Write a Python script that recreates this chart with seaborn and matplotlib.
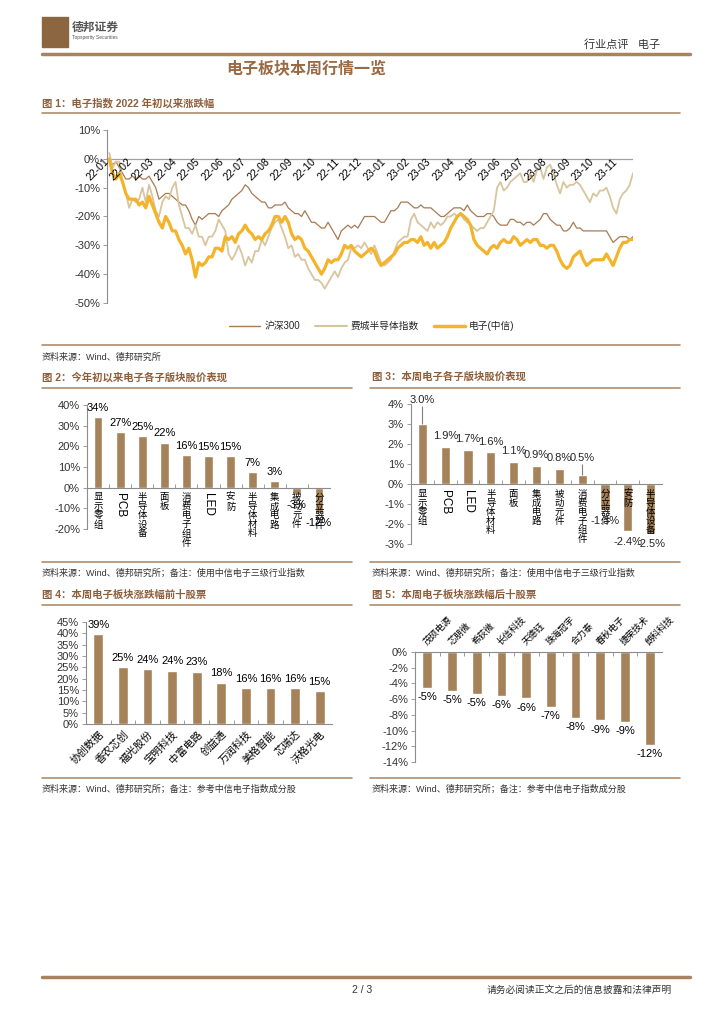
import numpy as np
import pandas as pd
import seaborn as sns
import matplotlib.pyplot as plt
import matplotlib.dates as mdates
from matplotlib.lines import Line2D
from matplotlib.patches import Rectangle

sns.set_theme(style="white")
plt.rcParams["font.family"] = ["Liberation Sans", "Noto Sans CJK SC", "DejaVu Sans"]
plt.rcParams["axes.unicode_minus"] = False

W, H = 724, 1024

# 颜色
BAR = "#A5825A"
RULE = "#B08D6B"
HEAD = "#8E5F3B"
TXT = "#333333"
GRAY = "#8C8C8C"
HS300_C = "#A77B53"
SOX_C = "#D8C59E"
ELEC_C = "#F4B42A"

# ---- 图1 数据 (2022-01 ~ 2023-11, 累计涨跌幅 %) ----
hs300 = [0, -2, -1, -3, -5, -7, -7, -6, -7, -6,
         -7, -7, -6, -8, -10, -14, -13, -12, -12, -13,
         -14, -15, -16, -16, -18, -21, -23, -20, -21, -20,
         -19, -19, -19, -20, -18, -17, -16, -14, -13, -12,
         -11, -9, -10, -12, -13, -14, -15, -15, -17, -17,
         -16, -16, -16, -15, -17, -18, -19, -19, -20, -18,
         -20, -22, -22, -23, -24, -24, -22, -24, -26, -28,
         -25, -24, -23, -24, -23, -24, -22, -20, -20,
         -20, -20, -21, -22, -22, -20, -18, -18, -17, -15,
         -15, -15, -16, -17, -17, -16, -17, -17, -17, -18,
         -19, -20, -20, -19, -18, -17, -17, -17, -18, -16,
         -18, -19, -20, -20, -20, -19, -19, -20, -22, -23,
         -23, -23, -21, -21, -22, -22, -23, -22, -22, -23,
         -22, -21, -19, -19, -21, -22, -23, -23, -25, -25,
         -24, -22, -24, -24, -25, -25, -25, -25, -25, -25,
         -25, -25, -27, -29, -28, -27, -27, -27, -28, -27]
sox = [2, -3, -1, -1, -8, -12, -17, -14, -15, -14,
       -10, -15, -9, -13, -18, -20, -15, -13, -14, -10,
       -8, -16, -20, -24, -24, -26, -23, -27, -27, -30,
       -27, -27, -25, -21, -23, -25, -33, -35, -33, -30,
       -33, -37, -34, -36, -32, -32, -28, -30, -27, -24,
       -22, -21, -24, -27, -31, -30, -34, -33, -35, -35,
       -38, -40, -42, -42, -43, -45, -43, -41, -39, -41,
       -38, -36, -35, -31, -31, -30, -31, -29, -31,
       -33, -30, -33, -36, -37, -36, -35, -32, -29, -28,
       -27, -27, -21, -19, -22, -23, -24, -25, -22, -24,
       -22, -23, -22, -20, -20, -19, -20, -19, -21, -22,
       -23, -24, -25, -24, -24, -22, -20, -18, -10, -8,
       -11, -10, -8, -7, -6, -5, -8, -8, -5, -8,
       -4, -3, -7, -3, -2, -5, -9, -12, -8, -10,
       -9, -9, -8, -9, -11, -13, -15, -12, -13, -11,
       -11, -10, -13, -17, -19, -14, -12, -11, -9, -5]
elec = [0, -5, -7, -5, -8, -12, -14, -14, -14, -16,
        -15, -17, -13, -16, -19, -22, -24, -20, -22, -25,
        -25, -28, -30, -33, -31, -35, -41, -36, -37, -36,
        -34, -34, -31, -31, -32, -27, -28, -27, -29, -26,
        -25, -23, -25, -26, -28, -27, -28, -26, -25, -23,
        -20, -20, -22, -20, -22, -26, -28, -27, -28, -31,
        -32, -34, -36, -38, -40, -38, -35, -36, -35, -35,
        -33, -30, -31, -30, -32, -33, -34, -33, -32,
        -31, -32, -35, -37, -36, -35, -34, -33, -31, -30,
        -29, -29, -28, -28, -29, -27, -30, -29, -31, -29,
        -31, -30, -29, -27, -24, -22, -20, -19, -20, -21,
        -23, -28, -30, -31, -32, -33, -31, -30, -31, -29,
        -28, -29, -29, -27, -28, -30, -29, -28, -29, -28,
        -28, -30, -30, -31, -30, -30, -32, -35, -37, -38,
        -37, -34, -33, -32, -35, -37, -36, -35, -35, -35,
        -35, -33, -35, -37, -34, -31, -29, -29, -28, -28]
month_labels = ["22-01", "22-02", "22-03", "22-04", "22-05", "22-06", "22-07", "22-08",
                "22-09", "22-10", "22-11", "22-12", "23-01", "23-02", "23-03", "23-04",
                "23-05", "23-06", "23-07", "23-08", "23-09", "23-10", "23-11"]
series_names = ["沪深300", "费城半导体指数", "电子(中信)"]

# ---- 图2 今年初以来 ----
ytd_cats = ["显示零组", "PCB", "半导体设备", "面板", "消费电子组件", "LED", "安防",
            "半导体材料", "集成电路", "被动元件", "分立器件"]
ytd_vals = [34.2, 26.8, 24.9, 21.8, 15.9, 15.4, 15.1, 7.4, 3.1, -3.2, -12.2]
ytd_labels = ["34%", "27%", "25%", "22%", "16%", "15%", "15%", "7%", "3%", "-3%", "-12%"]

# ---- 图3 本周 ----
wk_cats = ["显示零组", "PCB", "LED", "半导体材料", "面板", "集成电路", "被动元件",
           "消费电子组件", "分立器件", "安防", "半导体设备"]
wk_vals = [3.0, 1.85, 1.7, 1.58, 1.12, 0.92, 0.77, 0.45, -1.3, -2.37, -2.48]
wk_labels = ["3.0%", "1.9%", "1.7%", "1.6%", "1.1%", "0.9%", "0.8%", "0.5%",
             "-1.3%", "-2.4%", "-2.5%"]

# ---- 图4 涨幅前十 ----
top_names = ["协创数据", "香农芯创", "福光股份", "宝明科技", "中富电路", "创益通",
             "万润科技", "美格智能", "芯瑞达", "沃格光电"]
top_vals = [39.5, 25.0, 24.2, 23.6, 23.1, 18.3, 16.0, 15.7, 15.7, 14.6]
top_labels = ["39%", "25%", "24%", "24%", "23%", "18%", "16%", "16%", "16%", "15%"]

# ---- 图5 跌幅前十 ----
bot_names = ["茂硕电源", "芯朋微", "希荻微", "长信科技", "天德钰", "珠海冠宇",
             "合力泰", "春秋电子", "捷荣技术", "朗科科技"]
bot_vals = [-4.6, -5.0, -5.3, -5.6, -5.9, -7.0, -8.4, -8.7, -8.9, -11.8]
bot_labels = ["-5%", "-5%", "-5%", "-6%", "-6%", "-7%", "-8%", "-9%", "-9%", "-12%"]


def axes_at(fig, left, top, right, bottom):
    return fig.add_axes([left / W, 1 - bottom / H, (right - left) / W, (bottom - top) / H])


def ftext(fig, x, y, s, **kw):
    fig.text(x / W, 1 - y / H, s, **kw)


def hline(fig, y, x0, x1, lw=1.2, color=RULE):
    fig.add_artist(Line2D([x0 / W, x1 / W], [1 - y / H, 1 - y / H], color=color, lw=lw))


def style_yaxis(ax, ticks, fs=8):
    ax.set_yticks(ticks)
    ax.set_yticklabels([f"{t}%" for t in ticks], fontsize=fs, color=TXT)
    ax.tick_params(axis="y", length=3, width=0.6, color=GRAY, direction="out", pad=2, left=True)
    for s in ["top", "right"]:
        ax.spines[s].set_visible(False)
    ax.spines["left"].set_color(GRAY)
    ax.spines["left"].set_linewidth(0.8)
    ax.set_xlabel("")
    ax.set_ylabel("")


def bar_panel(ax, cats, vals, ylim, step, width=0.4):
    sns.barplot(x=cats, y=vals, ax=ax, color=BAR, width=width, saturation=1)
    ax.set_ylim(*ylim)
    ax.set_xlim(-0.5, len(cats) - 0.5)
    style_yaxis(ax, np.arange(ylim[0], ylim[1] + step / 2, step).astype(int), fs=8)
    ax.spines["bottom"].set_position(("data", 0))
    ax.spines["bottom"].set_color(GRAY)
    ax.spines["bottom"].set_linewidth(0.8)
    ax.set_xticks(np.arange(len(cats) - 1) + 0.5, minor=True)
    ax.set_xticks([])
    ax.tick_params(axis="x", which="minor", length=3, width=0.6, color=GRAY, direction="in", bottom=True)


def vertical_labels(ax, cats):
    for i, c in enumerate(cats):
        if c.isascii():
            ax.annotate(c, (i, 0), xytext=(0, -4), textcoords="offset points", rotation=270,
                        ha="center", va="top", fontsize=8.5, color="black")
        else:
            ax.annotate("\n".join(c), (i, 0), xytext=(0, -4), textcoords="offset points",
                        ha="center", va="top", fontsize=6.8, linespacing=1.0, color="black")


def value_labels(ax, vals, labels, up=3, down=-3):
    for i, (v, s) in enumerate(zip(vals, labels)):
        if v >= 0:
            ax.annotate(s, (i, v), xytext=(0, up), textcoords="offset points",
                        ha="center", va="bottom", fontsize=8, color="black", annotation_clip=False)
        else:
            ax.annotate(s, (i, v), xytext=(0, down), textcoords="offset points",
                        ha="center", va="top", fontsize=8, color="black", annotation_clip=False)


fig = plt.figure(figsize=(7.24, 10.24), dpi=100)

# ---- 页眉 ----
fig.add_artist(Rectangle((42 / W, 1 - 47 / H), 26 / W, 30 / H, color="#8C6641"))
ftext(fig, 72, 28, "德邦证券", fontsize=8.5, fontweight="bold", color="#555555", va="center")
ftext(fig, 72, 38, "Topsperity Securities", fontsize=3.5, color="#555555", va="center")
ftext(fig, 660, 45, "行业点评   电子", fontsize=8, color=TXT, ha="right", va="center")
hline(fig, 54, 42, 690, lw=2.5, color="#A8835E")
ftext(fig, 306, 69, "电子板块本周行情一览", fontsize=11.5, fontweight="bold", color="#9A6A44",
      ha="center", va="center")

# ---- 图1 ----
ftext(fig, 42, 103, "图 1：电子指数 2022 年初以来涨跌幅", fontsize=7.5, fontweight="bold",
      color=HEAD, va="center")
hline(fig, 113, 42, 680)
ax1 = axes_at(fig, 107, 130, 633, 303)
dates = pd.date_range("2022-01-04", "2023-11-24", periods=len(elec))
for vals, name, col, lw in [(hs300, series_names[0], HS300_C, 0.9),
                            (sox, series_names[1], SOX_C, 1.3),
                            (elec, series_names[2], ELEC_C, 2.3)]:
    d = pd.DataFrame({"date": dates[:len(vals)], "pct": vals})
    sns.lineplot(data=d, x="date", y="pct", ax=ax1, color=col, lw=lw, legend=False)
ax1.axhline(0, color="#A0A0A0", lw=0.9, zorder=0)
ax1.set_ylim(-50, 10)
ax1.set_xlim(mdates.date2num(pd.Timestamp("2022-01-01")), mdates.date2num(dates[-1]))
style_yaxis(ax1, np.arange(-50, 11, 10))
ax1.spines["bottom"].set_visible(False)
ax1.set_xticks([])
month_pos = pd.date_range("2022-01-01", periods=len(month_labels), freq="MS")
for m, lab in zip(month_pos, month_labels):
    ax1.text(mdates.date2num(m), -0.5, lab, rotation=45, rotation_mode="anchor",
             ha="right", va="center", fontsize=7.5, color="black")
handles = [Line2D([], [], color=HS300_C, lw=1.0), Line2D([], [], color=SOX_C, lw=1.5),
           Line2D([], [], color=ELEC_C, lw=2.5)]
fig.legend(handles, series_names, loc="center", bbox_to_anchor=(372 / W, 1 - 326 / H), ncol=3,
           frameon=False, fontsize=7, handlelength=3.2, columnspacing=1.6, handletextpad=0.4)
hline(fig, 345, 42, 680)
ftext(fig, 42, 357, "资料来源：Wind、德邦研究所", fontsize=6.5, color=TXT, va="center")

# ---- 图2 / 图3 ----
ftext(fig, 42, 377, "图 2：今年初以来电子各子版块股价表现", fontsize=7.5, fontweight="bold",
      color=HEAD, va="center")
ftext(fig, 372, 377, "图 3：本周电子各子版块股价表现", fontsize=7.5, fontweight="bold",
      color=HEAD, va="center")
hline(fig, 388, 42, 352)
hline(fig, 388, 370, 680)

ax2 = axes_at(fig, 87, 405, 330, 529)
bar_panel(ax2, ytd_cats, ytd_vals, (-20, 40), 10)
vertical_labels(ax2, ytd_cats)
value_labels(ax2, ytd_vals, ytd_labels, up=3, down=-4)

ax3 = axes_at(fig, 411, 404, 662, 544)
bar_panel(ax3, wk_cats, wk_vals, (-3, 4), 1)
vertical_labels(ax3, wk_cats)
# 引导线
ax3.vlines([0, 7], [wk_vals[0], wk_vals[7]], [3.9, 1.0], color="#7F7F7F", lw=0.8)
for i, (v, s) in enumerate(zip(wk_vals, wk_labels)):
    if i == 0:
        ax3.text(i, 3.95, s, ha="center", va="bottom", fontsize=8, clip_on=False)
    elif i == 7:
        ax3.text(i, 1.05, s, ha="center", va="bottom", fontsize=8)
    elif v >= 0:
        ax3.annotate(s, (i, v), xytext=(0, 4), textcoords="offset points",
                     ha="center", va="bottom", fontsize=8)
    else:
        ax3.annotate(s, (i, v), xytext=(0, -4), textcoords="offset points",
                     ha="center", va="top", fontsize=8, annotation_clip=False)

hline(fig, 562, 42, 352)
hline(fig, 562, 370, 680)
ftext(fig, 42, 573, "资料来源：Wind、德邦研究所；备注：使用中信电子三级行业指数", fontsize=6.5,
      color=TXT, va="center")
ftext(fig, 372, 573, "资料来源：Wind、德邦研究所；备注：使用中信电子三级行业指数", fontsize=6.5,
      color=TXT, va="center")

# ---- 图4 / 图5 ----
ftext(fig, 42, 595, "图 4：本周电子板块涨跌幅前十股票", fontsize=7.5, fontweight="bold",
      color=HEAD, va="center")
ftext(fig, 372, 595, "图 5：本周电子板块涨跌幅后十股票", fontsize=7.5, fontweight="bold",
      color=HEAD, va="center")
hline(fig, 605, 42, 352)
hline(fig, 605, 370, 680)

ax4 = axes_at(fig, 86, 622, 332, 724)
bar_panel(ax4, top_names, top_vals, (0, 45), 5)
value_labels(ax4, top_vals, top_labels, up=3)
for i, c in enumerate(top_names):
    ax4.annotate(c, (i + 0.15, 0), xytext=(0, -6), textcoords="offset points", rotation=45,
                 rotation_mode="anchor", ha="right", va="center", fontsize=7.5, color="black",
                 annotation_clip=False)

ax5 = axes_at(fig, 415, 652, 662, 762)
bar_panel(ax5, bot_names, bot_vals, (-14, 0), 2)
ax5.tick_params(axis="x", which="minor", direction="out")
value_labels(ax5, bot_vals, bot_labels, down=-3)
for i, c in enumerate(bot_names):
    ax5.annotate(c, (i - 0.1, 0), xytext=(0, 6), textcoords="offset points", rotation=45,
                 rotation_mode="anchor", ha="left", va="center", fontsize=6.5, color="black",
                 annotation_clip=False)

hline(fig, 778, 42, 352)
hline(fig, 778, 370, 680)
ftext(fig, 42, 789, "资料来源：Wind、德邦研究所；备注：参考中信电子指数成分股", fontsize=6.5,
      color=TXT, va="center")
ftext(fig, 372, 789, "资料来源：Wind、德邦研究所；备注：参考中信电子指数成分股", fontsize=6.5,
      color=TXT, va="center")

# ---- 页脚 ----
hline(fig, 977, 42, 690, lw=2.5, color="#A8835E")
ftext(fig, 362, 990, "2 / 3", fontsize=7.5, color=TXT, ha="center", va="center")
ftext(fig, 672, 990, "请务必阅读正文之后的信息披露和法律声明", fontsize=7, color=TXT,
      ha="right", va="center")

fig.savefig("out.png", dpi=100)
